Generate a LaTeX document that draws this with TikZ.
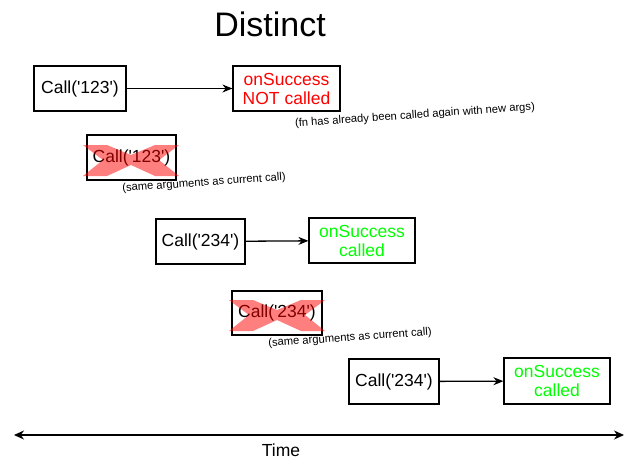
\documentclass[tikz,border=0pt]{standalone}
\usepackage{fontspec}
\setmainfont{Liberation Sans}
\usetikzlibrary{arrows.meta}
\definecolor{okgreen}{HTML}{00FF00}
\definecolor{nored}{HTML}{FF0000}
\begin{document}
\begin{tikzpicture}[
    x=1pt, y=-1pt,
    every node/.style={font=\fontsize{17.5}{19}\selectfont, align=center},
    callbox/.style={rectangle, draw=black, line width=1.2pt, fill=white,
                    minimum width=89pt, minimum height=45pt, inner sep=0pt},
    resbox/.style={rectangle, draw=black, line width=1.2pt, fill=white,
                   minimum width=106pt, minimum height=45pt, inner sep=0pt},
    note/.style={font=\fontsize{11.2}{13}\selectfont, rotate=4, inner sep=0pt},
    arr/.style={-{Stealth[length=10pt, width=8pt]}, line width=1.3pt},
    redx/.pic={\fill[nored, fill opacity=0.5]
        (-48,-15) -- (-24,-15) -- (0,-5) -- (24,-15) -- (48,-15) -- (28,0)
        -- (48,16) -- (24,16) -- (0,5) -- (-24,16) -- (-48,16) -- (-28,0) -- cycle;},
]
\useasboundingbox (0,0) rectangle (638,459);
\node[font=\fontsize{34}{38}\selectfont] (title) at (270,24) {Distinct};
\node[callbox, minimum width=92pt] (call1) at (80,88.5) {Call(\textquotesingle 123\textquotesingle)};
\node[resbox, minimum width=107pt, text=nored] (fail) at (286.5,88.5) {onSuccess\\NOT called};
\node[note] (note1) at (415,115.5) {(fn has already been called again with new args)};
\node[callbox] (skip1) at (131.5,157.5) {Call(\textquotesingle 123\textquotesingle)};
\pic at (131,160) {redx};
\node[note] (note2) at (204,183) {(same arguments as current call)};
\node[callbox] (call2) at (200.5,241.5) {Call(\textquotesingle 234\textquotesingle)};
\node[resbox, text=okgreen] (ok1) at (362,240.5) {onSuccess\\called};
\node[callbox, minimum width=90pt, minimum height=44pt] (skip2) at (277,313) {Call(\textquotesingle 234\textquotesingle)};
\pic at (277,315) {redx};
\node[note] (note3) at (350,338) {(same arguments as current call)};
\node[callbox, minimum width=90pt] (call3) at (394,381.5) {Call(\textquotesingle 234\textquotesingle)};
\node[resbox, minimum height=46pt, text=okgreen] (ok2) at (557,381) {onSuccess\\called};
\coordinate (t0) at (14,435);
\coordinate (t1) at (624,435);
\node (time) at (281,450.5) {Time};
\draw[arr] (call1) -- (fail);
\draw[arr] (call2) -- (ok1);
\draw[arr] (call3) -- (ok2);
\draw[{Stealth[length=10pt, width=9pt]}-{Stealth[length=10pt, width=9pt]}, line width=1.3pt] (t0) -- (t1);
\end{tikzpicture}
\end{document}
